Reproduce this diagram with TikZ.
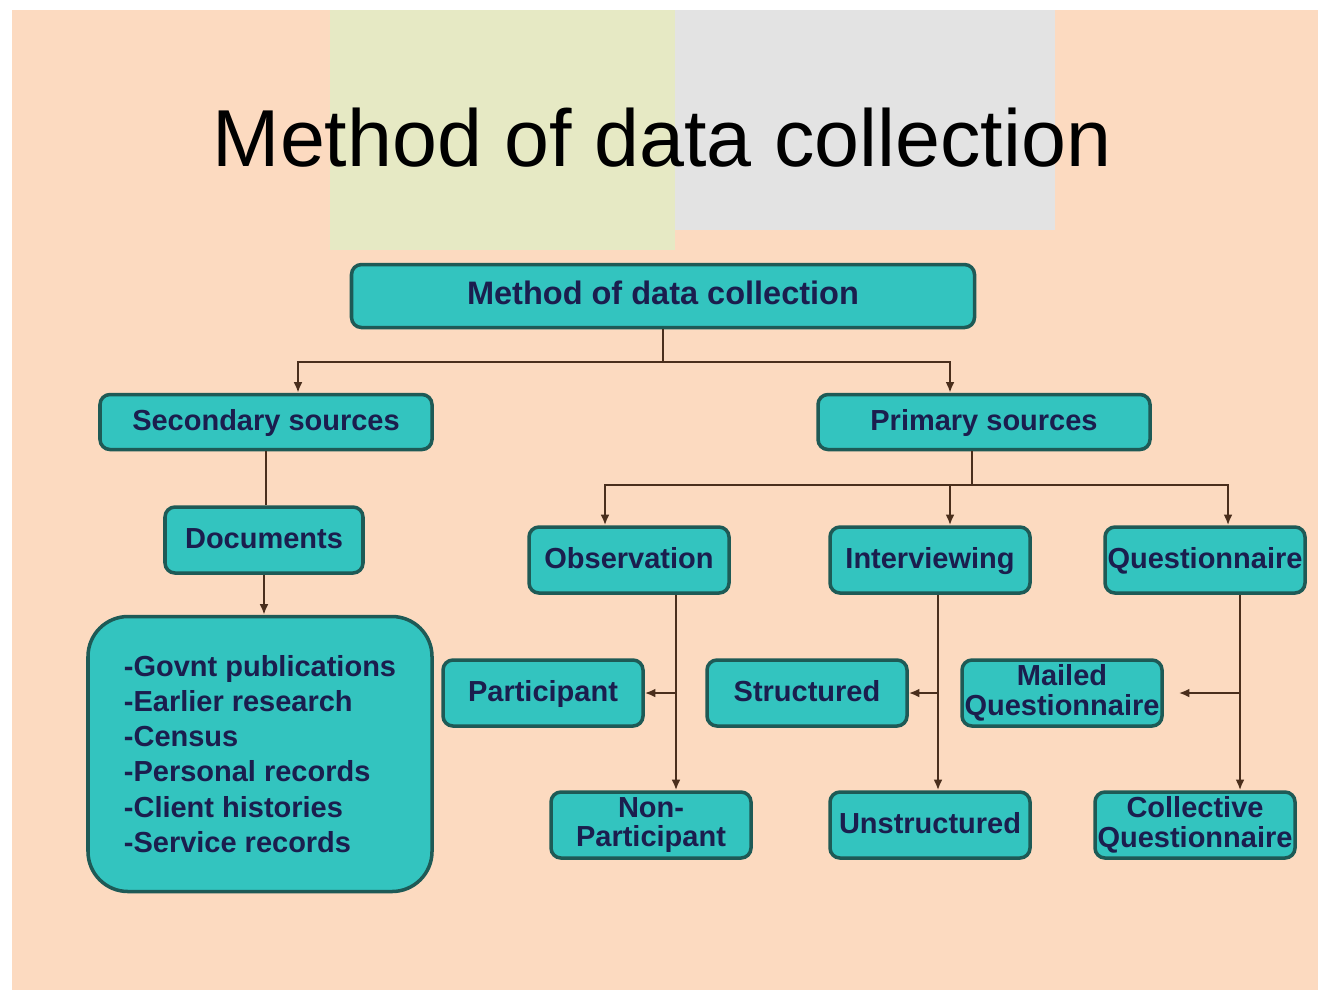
\documentclass[tikz,border=0pt]{standalone}
\usepackage{fontspec}
\setmainfont{Liberation Sans}
\usetikzlibrary{arrows.meta,calc}
\definecolor{peach}{HTML}{FCDAC0}
\definecolor{paleg}{HTML}{E6E9C4}
\definecolor{paleq}{HTML}{E3E3E3}
\definecolor{boxfill}{HTML}{33C4BF}
\definecolor{boxline}{HTML}{1E5A56}
\definecolor{boxtext}{HTML}{1B1E4E}
\definecolor{wire}{HTML}{4A2E1C}
\tikzset{
    box/.style={
        draw=boxline,
        line width=2pt,
        fill=boxfill,
        rounded corners=0.2cm,
        text=boxtext,
        align=center,
        inner sep=0pt,
        font=\bfseries\fontsize{16.5}{17}\selectfont
    },
    bsize/.style 2 args={minimum width=#1*0.02cm, minimum height=#2*0.02cm},
    oneline/.style={text height=13pt, text depth=3pt},
    leaf/.style={box, bsize={200}{66}},
    arr/.style={wire, line width=1.4pt, -{Latex[length=6pt,width=5pt]}},
    wire/.style={draw=wire, line width=1.4pt}
}

\begin{document}
\begin{tikzpicture}[x=0.02cm,y=-0.02cm]
    \useasboundingbox (0,0) rectangle (1327,995);
    \fill[white] (0,0) rectangle (1327,995);
    \fill[peach] (12,10) rectangle (1318,990);
    \fill[paleg] (330,10) rectangle (675,250);
    \fill[paleq] (675,10) rectangle (1055,230);

    \node[font=\fontsize{46}{50}\selectfont] (title) at (662,138) {Method of data collection};

    \node[box,oneline,bsize={623}{63},font=\bfseries\fontsize{18.5}{20}\selectfont] (top) at (663,296) {Method of data collection};
    \node[box,oneline,bsize={332}{55}] (sec) at (266,422) {Secondary sources};
    \node[box,oneline,bsize={332}{55}] (prim) at (984,422) {Primary sources};
    \node[box,oneline,bsize={198}{66}] (doc) at (264,540) {Documents};
    \node[box,bsize={344}{275},rounded corners=0.8cm,align=left,
          font=\bfseries\fontsize{16.5}{20}\selectfont] (list) at (260,754)
          {-Govnt publications\\-Earlier research\\-Census\\-Personal records\\-Client histories\\-Service records\hspace*{1.5em}};

    \node[leaf,oneline] (obs) at (629,560) {Observation};
    \node[leaf,oneline] (intv) at (930,560) {Interviewing};
    \node[leaf,oneline] (quest) at (1205,560) {Questionnaire};
    \node[leaf,oneline] (part) at (543,693) {Participant};
    \node[leaf,oneline] (struct) at (807,693) {Structured};
    \node[leaf] (mail) at (1062,693) {Mailed\\Questionnaire};
    \node[leaf] (npart) at (651,825) {Non-\\Participant};
    \node[leaf,oneline] (unstr) at (930,825) {Unstructured};
    \node[leaf] (coll) at (1195,825) {Collective\\Questionnaire};

    % top level
    \draw[wire] (top.south) -- (663,362) coordinate (tj);
    \draw[arr] (tj) -| ($(sec.north)+(32,0)$);
    \draw[arr] (tj) -| ($(prim.north)+(-34,0)$);

    % secondary sources
    \draw[wire] (sec.south) -- (sec.south |- doc.north);
    \draw[arr] (doc.south) -- (doc.south |- list.north);

    % primary sources
    \draw[wire] ($(prim.south)+(-12,0)$) -- (972,485) coordinate (pj);
    \draw[arr] (pj) -| ($(obs.north)+(-24,0)$);
    \draw[arr] (pj) -| ($(intv.north)+(20,0)$);
    \draw[arr] (pj) -| ($(quest.north)+(23,0)$);

    % third level
    \coordinate (ov) at ($(obs.south)+(47,0)$);
    \coordinate (iv) at ($(intv.south)+(8,0)$);
    \coordinate (qv) at ($(quest.south)+(35,0)$);
    \draw[arr] (ov) -- (ov |- npart.north);
    \draw[arr] (iv) -- (iv |- unstr.north);
    \draw[arr] (qv) -- (qv |- coll.north);
    \draw[arr] (ov |- part.east) -- (part.east);
    \draw[arr] (iv |- struct.east) -- (struct.east);
    \draw[arr,shorten >=0.3cm] (qv |- mail.east) -- (mail.east);
\end{tikzpicture}
\end{document}
